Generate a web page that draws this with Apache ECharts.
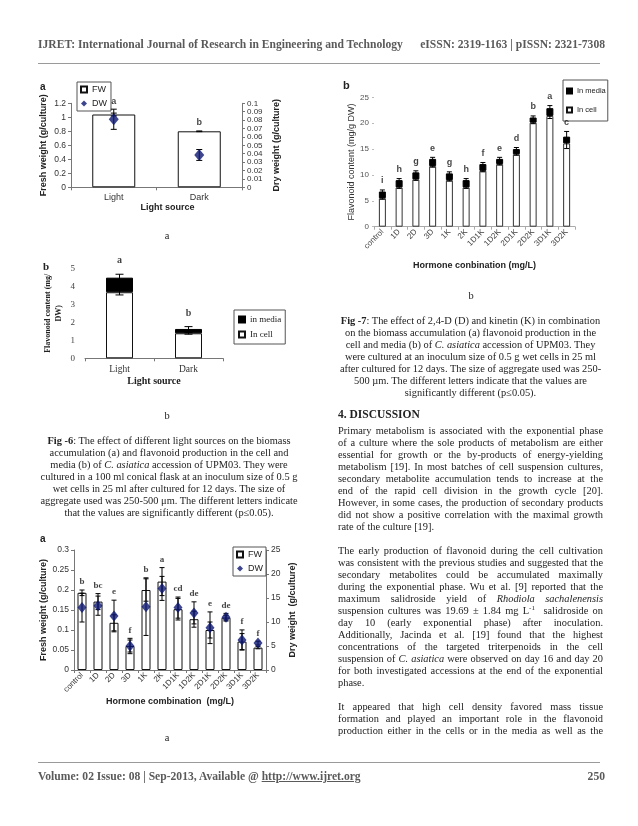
<!DOCTYPE html>
<html>
<head>
<meta charset="utf-8">
<script src="https://cdn.jsdelivr.net/npm/echarts@6/dist/echarts.min.js"></script>
<style>
  html,body{margin:0;padding:0;background:#fff;overflow:hidden;}
  #page{position:relative;width:638px;height:826px;background:#fff;overflow:hidden;}
  #chart{position:absolute;left:0;top:0;width:638px;height:826px;}
  .t{position:absolute;font-family:"Liberation Serif","Times New Roman",serif;color:#222;white-space:nowrap;}
  .hdr{font-size:11.6px;font-weight:bold;color:#5a5a5a;line-height:14px;}
  .cap{font-size:10.4px;line-height:12px;text-align:center;}
  .lbl{font-size:10.4px;line-height:12px;text-align:center;width:20px;}
  .body{font-size:10.4px;line-height:12px;width:265px;left:338px;}
  .body div{white-space:nowrap;text-align:justify;text-align-last:justify;height:12px;}
  .body div.l{text-align:left;text-align-last:left;}
  .rule{position:absolute;height:0;border-top:1px solid #9a9a9a;}
  sup{font-size:7px;line-height:0;vertical-align:4px;}
</style>
</head>
<body>
<div id="page">
  <div id="chart"></div>

  <div class="t hdr" style="left:38px;top:38px;">IJRET: International Journal of Research in Engineering and Technology</div>
  <div class="t hdr" style="right:33px;top:38px;">eISSN: 2319-1163 | pISSN: 2321-7308</div>
  <div class="rule" style="left:38px;top:63px;width:562px;"></div>

  <div class="t lbl" style="left:157px;top:230px;">a</div>
  <div class="t lbl" style="left:157px;top:410px;">b</div>
  <div class="t lbl" style="left:157px;top:732px;">a</div>
  <div class="t lbl" style="left:461px;top:290px;">b</div>

  <div class="t cap" style="left:35px;width:268px;top:435px;">
    <b>Fig -6</b>: The effect of different light sources on the biomass<br>
    accumulation (a) and flavonoid production in the cell and<br>
    media (b) of <i>C. asiatica</i> accession of UPM03. They were<br>
    cultured in a 100 ml conical flask at an inoculum size of 0.5 g<br>
    wet cells in 25 ml after cultured for 12 days. The size of<br>
    aggregate used was 250-500 μm. The different letters indicate<br>
    that the values are significantly different (p≤0.05).
  </div>

  <div class="t cap" style="left:338px;width:265px;top:315px;">
    <b>Fig -7</b>: The effect of 2,4-D (D) and kinetin (K) in combination<br>
    on the biomass accumulation (a) flavonoid production in the<br>
    cell and media (b) of <i>C. asiatica</i> accession of UPM03. They<br>
    were cultured at an inoculum size of 0.5 g wet cells in 25 ml<br>
    after cultured for 12 days. The size of aggregate used was 250-<br>
    500 µm. The different letters indicate that the values are<br>
    significantly different (p≤0.05).
  </div>

  <div class="t" style="left:338px;top:407px;font-size:11.5px;font-weight:bold;line-height:14px;">4. DISCUSSION</div>

  <div class="t body" style="top:425px;">
    <div>Primary metabolism is associated with the exponential phase</div>
    <div>of a culture where the sole products of metabolism are either</div>
    <div>essential for growth or the by-products of energy-yielding</div>
    <div>metabolism [19]. In most batches of cell suspension cultures,</div>
    <div>secondary metabolite accumulation tends to increase at the</div>
    <div>end of the rapid cell division in the growth cycle [20].</div>
    <div>However, in some cases, the production of secondary products</div>
    <div>did not show a positive correlation with the maximal growth</div>
    <div class="l">rate of the culture [19].</div>
    <div class="l"></div>
    <div>The early production of flavonoid during the cell cultivation</div>
    <div>was consistent with the previous studies and suggested that the</div>
    <div>secondary metabolites could be accumulated maximally</div>
    <div>during the exponential phase. Wu et al. [9] reported that the</div>
    <div>maximum salidroside yield of <i>Rhodiola sachalenensis</i></div>
    <div>suspension cultures was 19.69 ± 1.84 mg L<sup>-1</sup>&nbsp; salidroside on</div>
    <div>day 10 (early exponential phase) after inoculation.</div>
    <div>Additionally, Jacinda et al. [19] found that the highest</div>
    <div>concentrations of the targeted triterpenoids in the cell</div>
    <div>suspension of <i>C. asiatica</i> were observed on day 16 and day 20</div>
    <div>for both investigated accessions at the end of the exponential</div>
    <div class="l">phase.</div>
    <div class="l"></div>
    <div>It appeared that high cell density favored mass tissue</div>
    <div>formation and played an important role in the flavonoid</div>
    <div>production either in the cells or in the media as well as the</div>
  </div>

  <div class="rule" style="left:38px;top:762px;width:562px;"></div>
  <div class="t hdr" style="left:38px;top:770px;">Volume: 02 Issue: 08 | Sep-2013, Available @ <u>http://www.ijret.org</u></div>
  <div class="t hdr" style="right:33px;top:770px;">250</div>
</div>

<script>
// ---------- Fig 6a : biomass vs light source ----------
const lightCats = ['Light', 'Dark'];
const fw6a = [1.04, 0.80];
const fwErr6a = [0.02, 0.005];
const dw6a = [0.081, 0.0385];
const dwErr6a = [0.012, 0.0065];
const letters6a = ['a', 'b'];
const fwTicks6a = [0, 1.2, 0.2];     // min, max, interval
const dwTicks6a = [0, 0.1, 0.01];

// ---------- Fig 6b : flavonoid vs light source ----------
const cell6b = [3.67, 1.39];
const media6b = [0.81, 0.24];
const cellErr6b = [0.15, 0.05];
const totErr6b = [0.19, 0.13];
const letters6b = ['a', 'b'];
const flavTicks6b = [0, 5, 1];

// ---------- Fig 7a : biomass vs hormone combination ----------
const hormones = ['control', '1D', '2D', '3D', '1K', '2K', '1D1K', '1D2K', '2D1K', '2D2K', '3D1K', '3D2K'];
const fw7a = [0.193, 0.171, 0.118, 0.060, 0.200, 0.221, 0.152, 0.127, 0.100, 0.131, 0.071, 0.056];
const fwErr7a = [0.007, 0.020, 0.020, 0.015, 0.028, 0.035, 0.027, 0.020, 0.020, 0.006, 0.020, 0.003];
const dw7a = [13.0, 13.4, 11.25, 5.0, 13.2, 17.0, 13.0, 11.9, 8.8, 11.0, 6.25, 5.6];
const dwErr7a = [3.0, 2.0, 3.3, 1.6, 6.0, 2.5, 2.2, 2.3, 3.3, 0.8, 2.1, 0.4];
const letters7a = ['b', 'bc', 'e', 'f', 'b', 'a', 'cd', 'de', 'e', 'de', 'f', 'f'];
const fwTicks7a = [0, 0.3, 0.05];
const dwTicks7a = [0, 25, 5];

// ---------- Fig 7b : flavonoid vs hormone combination ----------
const cell7b = [5.5, 7.6, 9.15, 11.7, 9.0, 7.6, 10.8, 12.1, 14.0, 20.1, 21.4, 16.1];
const media7b = [1.3, 1.4, 1.35, 1.4, 1.3, 1.4, 1.3, 1.0, 1.0, 1.0, 1.5, 1.3];
const cellErr7b = [0.2, 0.2, 0.2, 0.2, 0.2, 0.2, 0.2, 0.2, 0.2, 0.2, 0.5, 1.0];
const totErr7b = [0.3, 0.3, 0.3, 0.3, 0.3, 0.3, 0.3, 0.3, 0.3, 0.3, 0.5, 1.0];
const letters7b = ['i', 'h', 'g', 'e', 'g', 'h', 'f', 'e', 'd', 'b', 'a', 'c'];
const flavTicks7b = [0, 25, 5];

// ---------- helpers ----------
const SANS = 'Liberation Sans';
const SERIF = 'Liberation Serif';
const fmt = v => String(+v.toFixed(3));

function errSeries(xi, yi, vals, errs, cap, z) {
  return {
    type: 'custom', xAxisIndex: xi, yAxisIndex: yi, z: z || 5, silent: true, clip: false,
    renderItem: function (params, api) {
      const i = api.value(0), v = api.value(1), e = api.value(2);
      if (!e) return null;
      const t = api.coord([i, v + e]), b = api.coord([i, v - e]);
      const s = { stroke: '#000', lineWidth: 1 };
      return {
        type: 'group', children: [
          { type: 'line', shape: { x1: t[0], y1: t[1], x2: b[0], y2: b[1] }, style: s },
          { type: 'line', shape: { x1: t[0] - cap, y1: t[1], x2: t[0] + cap, y2: t[1] }, style: s },
          { type: 'line', shape: { x1: b[0] - cap, y1: b[1], x2: b[0] + cap, y2: b[1] }, style: s }
        ]
      };
    },
    data: vals.map((v, i) => [i, v, errs[i]])
  };
}

function letterSeries(xi, yi, tops, letters, font, size, dist) {
  return {
    type: 'scatter', xAxisIndex: xi, yAxisIndex: yi, z: 8, silent: true, clip: false,
    symbolSize: 1, itemStyle: { color: 'rgba(0,0,0,0)' },
    label: {
      show: true, position: 'top', distance: dist,
      formatter: p => letters[p.dataIndex],
      fontFamily: font, fontWeight: 'bold', fontSize: size, color: '#111'
    },
    data: tops.map((v, i) => [i, v])
  };
}

function valueAxis(gi, ticks, extra) {
  return Object.assign({
    type: 'value', gridIndex: gi, min: ticks[0], max: ticks[1], interval: ticks[2],
    splitLine: { show: false },
    axisLine: { show: true, lineStyle: { color: '#777', width: 1 } },
    axisTick: { show: true, length: 3, lineStyle: { color: '#777' } },
    axisLabel: { fontFamily: SANS, fontSize: 8.5, color: '#333', margin: 5, formatter: fmt },
    nameLocation: 'middle',
    nameTextStyle: { fontFamily: SANS, fontSize: 9, fontWeight: 'bold', color: '#222' }
  }, extra || {});
}

function catAxis(gi, cats, extra) {
  return Object.assign({
    type: 'category', gridIndex: gi, data: cats, boundaryGap: true,
    axisLine: { show: true, lineStyle: { color: '#777', width: 1 } },
    axisTick: { show: true, length: 3, lineStyle: { color: '#777' } },
    axisLabel: { fontFamily: SANS, fontSize: 9, color: '#333', margin: 6 },
    nameLocation: 'middle',
    nameTextStyle: { fontFamily: SANS, fontSize: 9, fontWeight: 'bold', color: '#222' }
  }, extra || {});
}

// derived tops
const r6a = fwTicks6a[1] / dwTicks6a[1];
const tops6a = fw6a.map((v, i) => Math.max(v + fwErr6a[i], (dw6a[i] + dwErr6a[i]) * r6a));
const total6b = cell6b.map((v, i) => v + media6b[i]);
const tops6b = total6b.map((v, i) => v + totErr6b[i]);
const r7a = fwTicks7a[1] / dwTicks7a[1];
const tops7a = fw7a.map((v, i) => Math.max(v + fwErr7a[i], (dw7a[i] + dwErr7a[i]) * r7a));
const total7b = cell7b.map((v, i) => v + media7b[i]);
const tops7b = total7b.map((v, i) => v + totErr7b[i]);

const barWhite = { color: '#fff', borderColor: '#111', borderWidth: 1 };
const navy = '#0b1670';

const legendBase = {
  orient: 'vertical', borderColor: '#555', borderWidth: 1, backgroundColor: '#fff',
  itemWidth: 6, itemHeight: 6, selectedMode: false, align: 'left'
};

const option = {
  animation: false,
  backgroundColor: 'transparent',
  grid: [
    { left: 71, top: 103.3, width: 171, height: 84 },
    { left: 85, top: 268.3, width: 138, height: 90 },
    { left: 74, top: 550, width: 192, height: 120 },
    { left: 374, top: 97.3, width: 201, height: 129.4 }
  ],
  xAxis: [
    catAxis(0, lightCats, { name: 'Light source', nameGap: 15,
      nameTextStyle: { fontFamily: SANS, fontSize: 9, fontWeight: 'bold', color: '#222', padding: [0, 0, 0, 22] } }),
    catAxis(1, lightCats, {
      name: 'Light source', nameGap: 18,
      axisLabel: { fontFamily: SERIF, fontSize: 9.5, color: '#333', margin: 6 },
      nameTextStyle: { fontFamily: SERIF, fontSize: 10, fontWeight: 'bold', color: '#222' }
    }),
    catAxis(2, hormones, {
      name: 'Hormone combination  (mg/L)', nameGap: 23,
      axisLabel: { fontFamily: SANS, fontSize: 8, color: '#333', margin: 4, rotate: 45, interval: 0 }
    }),
    catAxis(3, hormones, {
      name: 'Hormone conbination (mg/L)', nameGap: 34,
      axisLine: { show: true, lineStyle: { color: '#aaa', width: 1 } },
      axisTick: { show: true, length: 3, lineStyle: { color: '#aaa' } },
      axisLabel: { fontFamily: SANS, fontSize: 8, color: '#444', margin: 4, rotate: 45, interval: 0 }
    })
  ],
  yAxis: [
    valueAxis(0, fwTicks6a, { name: 'Fresh weight (g/culture)', nameGap: 23 }),
    valueAxis(0, dwTicks6a, { name: 'Dry weight (g/culture)', nameGap: 30, position: 'right',
      axisLabel: { fontFamily: SANS, fontSize: 8, color: '#333', margin: 5, formatter: fmt } }),
    valueAxis(1, flavTicks6b, {
      name: 'Flavonoid content (mg/\nDW)', nameGap: 21,
      axisLine: { show: false }, axisTick: { show: false },
      axisLabel: { fontFamily: SERIF, fontSize: 9, color: '#444', margin: 10, formatter: fmt },
      nameTextStyle: { fontFamily: SERIF, fontSize: 8, fontWeight: 'bold', color: '#222', lineHeight: 11 }
    }),
    valueAxis(2, fwTicks7a, { name: 'Fresh weight (g/culture)', nameGap: 26 }),
    valueAxis(2, dwTicks7a, { name: 'Dry weight  (g/culture)', nameGap: 22, position: 'right' }),
    valueAxis(3, flavTicks7b, {
      name: 'Flavonoid content (mg/g DW)', nameGap: 17,
      axisLine: { show: false },
      axisTick: { show: true, length: 2, lineStyle: { color: '#bbb' } },
      axisLabel: { fontFamily: SANS, fontSize: 8, color: '#555', margin: 5, formatter: fmt },
      nameTextStyle: { fontFamily: SANS, fontSize: 9, fontWeight: 'normal', color: '#333' }
    })
  ],
  legend: [
    Object.assign({}, legendBase, {
      left: 77, top: 82, padding: [3, 4, 3, 3], itemGap: 5,
      textStyle: { fontFamily: SANS, fontSize: 9, color: '#222' },
      data: [{ name: 'FW', icon: 'rect' }, { name: 'DW', icon: 'diamond' }]
    }),
    Object.assign({}, legendBase, {
      left: 234, top: 310, padding: [5, 4, 5, 4], itemGap: 6,
      textStyle: { fontFamily: SERIF, fontSize: 9, color: '#222' },
      data: [{ name: 'in media', icon: 'rect' }, { name: 'In cell', icon: 'rect' }]
    }),
    Object.assign({}, legendBase, {
      left: 233, top: 547, padding: [3, 3, 3, 3], itemGap: 5,
      textStyle: { fontFamily: SANS, fontSize: 9, color: '#222' },
      data: [{ name: 'FW', icon: 'rect' }, { name: 'DW', icon: 'diamond' }]
    }),
    Object.assign({}, legendBase, {
      left: 563, top: 80, padding: [7, 2, 7, 3], itemGap: 11, itemWidth: 5, itemHeight: 5,
      textStyle: { fontFamily: SANS, fontSize: 7.5, color: '#222' },
      data: [{ name: 'In media', icon: 'rect' }, { name: 'In cell', icon: 'rect' }]
    })
  ],
  graphic: [
    { type: 'text', left: 40, top: 82, style: { text: 'a', font: 'bold 10px "Liberation Sans"', fill: '#222' } },
    { type: 'text', left: 43, top: 262, style: { text: 'b', font: 'bold 11px "Liberation Serif"', fill: '#222' } },
    { type: 'text', left: 40, top: 534, style: { text: 'a', font: 'bold 10px "Liberation Sans"', fill: '#222' } },
    { type: 'text', left: 343, top: 80, style: { text: 'b', font: 'bold 11px "Liberation Sans"', fill: '#222' } }
  ],
  series: [
    // 6a
    { name: 'FW', type: 'bar', xAxisIndex: 0, yAxisIndex: 0, data: fw6a, barWidth: 43, itemStyle: barWhite },
    errSeries(0, 0, fw6a, fwErr6a, 3, 5),
    errSeries(0, 1, dw6a, dwErr6a, 3, 5),
    { name: 'DW', type: 'scatter', xAxisIndex: 0, yAxisIndex: 1, z: 6, data: dw6a.map((v, i) => [i, v]),
      symbol: 'diamond', symbolSize: [10, 12], itemStyle: { color: navy } },
    letterSeries(0, 0, tops6a, letters6a, SANS, 9, 3),

    // 6b
    { name: 'In cell', type: 'bar', stack: 'b6', xAxisIndex: 1, yAxisIndex: 2, data: cell6b, barWidth: 27, itemStyle: barWhite },
    { name: 'in media', type: 'bar', stack: 'b6', xAxisIndex: 1, yAxisIndex: 2, data: media6b, barWidth: 27,
      itemStyle: { color: '#000', borderColor: '#000', borderWidth: 1 } },
    errSeries(1, 2, cell6b, cellErr6b, 4, 5),
    errSeries(1, 2, total6b, totErr6b, 4, 5),
    letterSeries(1, 2, tops6b, letters6b, SERIF, 10, 8),

    // 7a
    { name: 'FW', type: 'bar', xAxisIndex: 2, yAxisIndex: 3, data: fw7a, barWidth: 9, itemStyle: barWhite },
    errSeries(2, 3, fw7a, fwErr7a, 2.5, 5),
    errSeries(2, 4, dw7a, dwErr7a, 2.5, 5),
    { name: 'DW', type: 'scatter', xAxisIndex: 2, yAxisIndex: 4, z: 6, data: dw7a.map((v, i) => [i, v]),
      symbol: 'diamond', symbolSize: [9, 11], itemStyle: { color: navy } },
    letterSeries(2, 3, tops7a, letters7a, SERIF, 9, 3),

    // 7b
    { name: 'In cell', type: 'bar', stack: 'b7', xAxisIndex: 3, yAxisIndex: 5, data: cell7b, barWidth: 7,
      itemStyle: { color: '#fff', borderColor: '#333', borderWidth: 1 } },
    { name: 'In media', type: 'bar', stack: 'b7', xAxisIndex: 3, yAxisIndex: 5, data: media7b, barWidth: 7,
      itemStyle: { color: '#000', borderColor: '#000', borderWidth: 1 } },
    errSeries(3, 5, cell7b, cellErr7b, 2.5, 5),
    errSeries(3, 5, total7b, totErr7b, 2.5, 5),
    letterSeries(3, 5, tops7b, letters7b, SANS, 9, 4)
  ]
};

const chart = echarts.init(document.getElementById('chart'), null, { renderer: 'canvas' });
chart.setOption(option);
</script>
</body>
</html>
